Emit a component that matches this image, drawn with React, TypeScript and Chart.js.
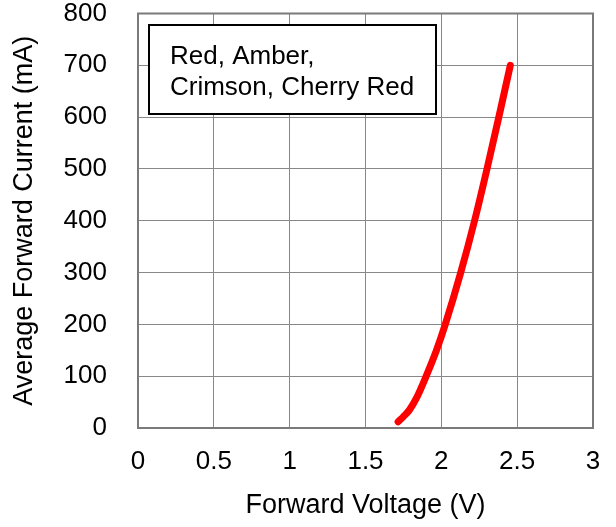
import { useEffect, useRef } from "react";
import { Chart, registerables } from "chart.js";

Chart.register(...registerables);

const voltage = [1.715, 1.75, 1.79, 1.84, 1.9, 1.968, 2.026, 2.128, 2.219, 2.301, 2.379, 2.455];
const current = [12, 22, 35, 60, 100, 150, 200, 300, 400, 500, 600, 700];
const xTicks = [0, 0.5, 1, 1.5, 2, 2.5, 3];
const yTicks = [0, 100, 200, 300, 400, 500, 600, 700, 800];
const legendLines = ["Red, Amber,", "Crimson, Cherry Red"];
const xTitle = "Forward Voltage (V)";
const yTitle = "Average Forward Current (mA)";

const FONT = '"Liberation Sans", Arial, Helvetica, sans-serif';

const framePlugin = {
  id: "frame",
  beforeDatasetsDraw(chart: any) {
    const { ctx, chartArea } = chart;
    ctx.save();
    ctx.strokeStyle = "#7a7a7a";
    ctx.lineWidth = 2;
    ctx.strokeRect(chartArea.left, chartArea.top, chartArea.right - chartArea.left, chartArea.bottom - chartArea.top);
    ctx.restore();
  },
  afterDatasetsDraw(chart: any) {
    const { ctx, chartArea } = chart;
    const x = chartArea.left + 11;
    const y = chartArea.top + 11.5;
    const w = 287;
    const h = 89;
    ctx.save();
    ctx.fillStyle = "#ffffff";
    ctx.fillRect(x, y, w, h);
    ctx.strokeStyle = "#000000";
    ctx.lineWidth = 2;
    ctx.strokeRect(x, y, w, h);
    ctx.fillStyle = "#000000";
    ctx.font = `26px ${FONT}`;
    ctx.textAlign = "left";
    ctx.textBaseline = "alphabetic";
    legendLines.forEach((line, i) => {
      ctx.fillText(line, x + 21, y + 39 + i * 31);
    });
    ctx.restore();
  },
};

export default function App() {
  const canvasRef = useRef<HTMLCanvasElement | null>(null);

  useEffect(() => {
    document.body.style.margin = "0";
    const canvas = canvasRef.current;
    if (!canvas) return;
    const points = voltage.map((v, i) => ({ x: v, y: current[i] }));
    const chart = new Chart(canvas, {
      type: "scatter",
      data: {
        datasets: [
          {
            data: points,
            showLine: true,
            borderColor: "#ff0000",
            backgroundColor: "#ff0000",
            borderWidth: 7,
            borderCapStyle: "round",
            borderJoinStyle: "round",
            pointRadius: 0,
            cubicInterpolationMode: "monotone",
          } as any,
        ],
      },
      options: {
        animation: false,
        responsive: true,
        maintainAspectRatio: false,
        layout: { padding: { top: 13.5, right: 23, left: 0, bottom: 0 } },
        plugins: { legend: { display: false }, tooltip: { enabled: false } },
        scales: {
          x: {
            type: "linear",
            min: xTicks[0],
            max: xTicks[xTicks.length - 1],
            afterBuildTicks: (scale: any) => {
              scale.ticks = xTicks.map((v) => ({ value: v }));
            },
            afterFit: (scale: any) => {
              scale.height = 99;
              scale.paddingLeft = 0;
              scale.paddingRight = 0;
            },
            grid: { color: "#888888", lineWidth: 1, drawTicks: false },
            border: { display: false },
            ticks: {
              color: "#000000",
              padding: 21,
              font: { family: FONT, size: 26, lineHeight: 1 },
              callback: (v: any) => String(v),
            },
            title: {
              display: true,
              text: xTitle,
              color: "#000000",
              font: { family: FONT, size: 27, lineHeight: 1.2 },
              padding: { top: 0, bottom: 5 },
            },
          },
          y: {
            type: "linear",
            min: yTicks[0],
            max: yTicks[yTicks.length - 1],
            afterBuildTicks: (scale: any) => {
              scale.ticks = yTicks.map((v) => ({ value: v }));
            },
            afterFit: (scale: any) => {
              scale.width = 138;
              scale.paddingTop = 0;
              scale.paddingBottom = 0;
            },
            grid: { color: "#888888", lineWidth: 1, drawTicks: false },
            border: { display: false },
            ticks: {
              color: "#000000",
              padding: 31,
              font: { family: FONT, size: 26, lineHeight: 1 },
              callback: (v: any) => String(v),
            },
            title: {
              display: true,
              text: yTitle,
              color: "#000000",
              font: { family: FONT, size: 27, lineHeight: 1.2 },
              padding: { top: 8, bottom: 0 },
            },
          },
        },
      },
      plugins: [framePlugin],
    });
    return () => chart.destroy();
  }, []);

  return (
    <div style={{ position: "absolute", left: 0, top: 0, width: 616, height: 527, background: "#ffffff" }}>
      <canvas ref={canvasRef} />
    </div>
  );
}
